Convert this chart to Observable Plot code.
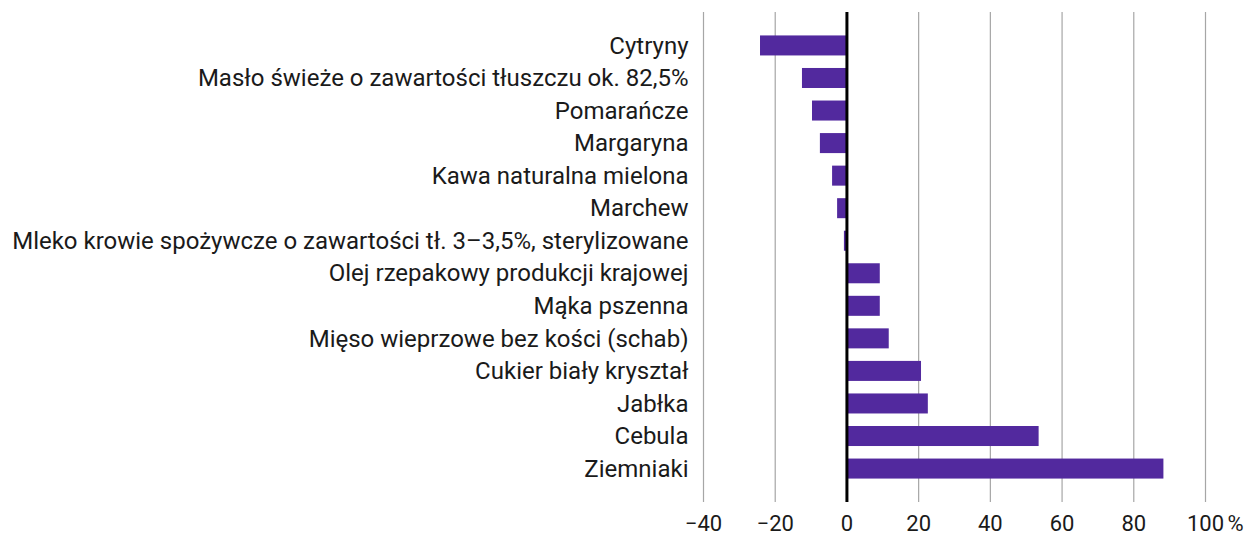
<!DOCTYPE html>
<html>
<head>
<meta charset="utf-8">
<script src="https://cdn.jsdelivr.net/npm/d3@7"></script>
<script src="https://cdn.jsdelivr.net/npm/@observablehq/plot@0.6"></script>
<style>
  html, body { margin: 0; padding: 0; background: #ffffff; }
</style>
</head>
<body>
<div id="chart"></div>
<script>
const categories = [
  "Cytryny",
  "Masło świeże o zawartości tłuszczu ok. 82,5%",
  "Pomarańcze",
  "Margaryna",
  "Kawa naturalna mielona",
  "Marchew",
  "Mleko krowie spożywcze o zawartości tł. 3–3,5%, sterylizowane",
  "Olej rzepakowy produkcji krajowej",
  "Mąka pszenna",
  "Mięso wieprzowe bez kości (schab)",
  "Cukier biały kryształ",
  "Jabłka",
  "Cebula",
  "Ziemniaki"
];
const values = [-24.1, -12.4, -9.6, -7.4, -4.0, -2.6, -0.7, 9.3, 9.3, 11.8, 20.8, 22.7, 53.6, 88.4];
const xTicks = [-40, -20, 0, 20, 40, 60, 80, 100];
const unitLabel = ["%"];

const data = categories.map((c, i) => ({category: c, value: values[i]}));
const fmt = d => d < 0 ? "\u2212" + Math.abs(d) : String(d);

const chart = Plot.plot({
  width: 1251,
  height: 538,
  marginLeft: 703,
  marginRight: 46,
  marginTop: 12,
  marginBottom: 36,
  style: {
    fontFamily: "'Roboto', sans-serif",
    fontSize: "24px",
    color: "#1a1a1a",
    background: "#ffffff"
  },
  x: {domain: [-40, 100]},
  y: {domain: categories, paddingInner: 0.385, paddingOuter: 0.72, align: 0.5, round: false},
  marks: [
    Plot.ruleX(xTicks.filter(d => d !== 0), {stroke: "#a6a6a6", strokeWidth: 1.2}),
    Plot.barX(data, {x: "value", y: "category", fill: "#52299e"}),
    Plot.ruleX([0], {stroke: "#000000", strokeWidth: 3}),
    Plot.axisX({ticks: xTicks, tickSize: 0, tickPadding: 13, tickFormat: fmt, label: null, fill: "#1a1a1a", fontSize: 22}),
    Plot.axisY({tickSize: 0, tickPadding: 15, label: null, fill: "#1a1a1a"}),
    Plot.text(unitLabel, {x: () => 100, text: d => d, frameAnchor: "bottom", lineAnchor: "top", textAnchor: "start", dx: 22, dy: 13, fill: "#1a1a1a", fontSize: 22})
  ]
});
document.getElementById("chart").appendChild(chart);
</script>
</body>
</html>
